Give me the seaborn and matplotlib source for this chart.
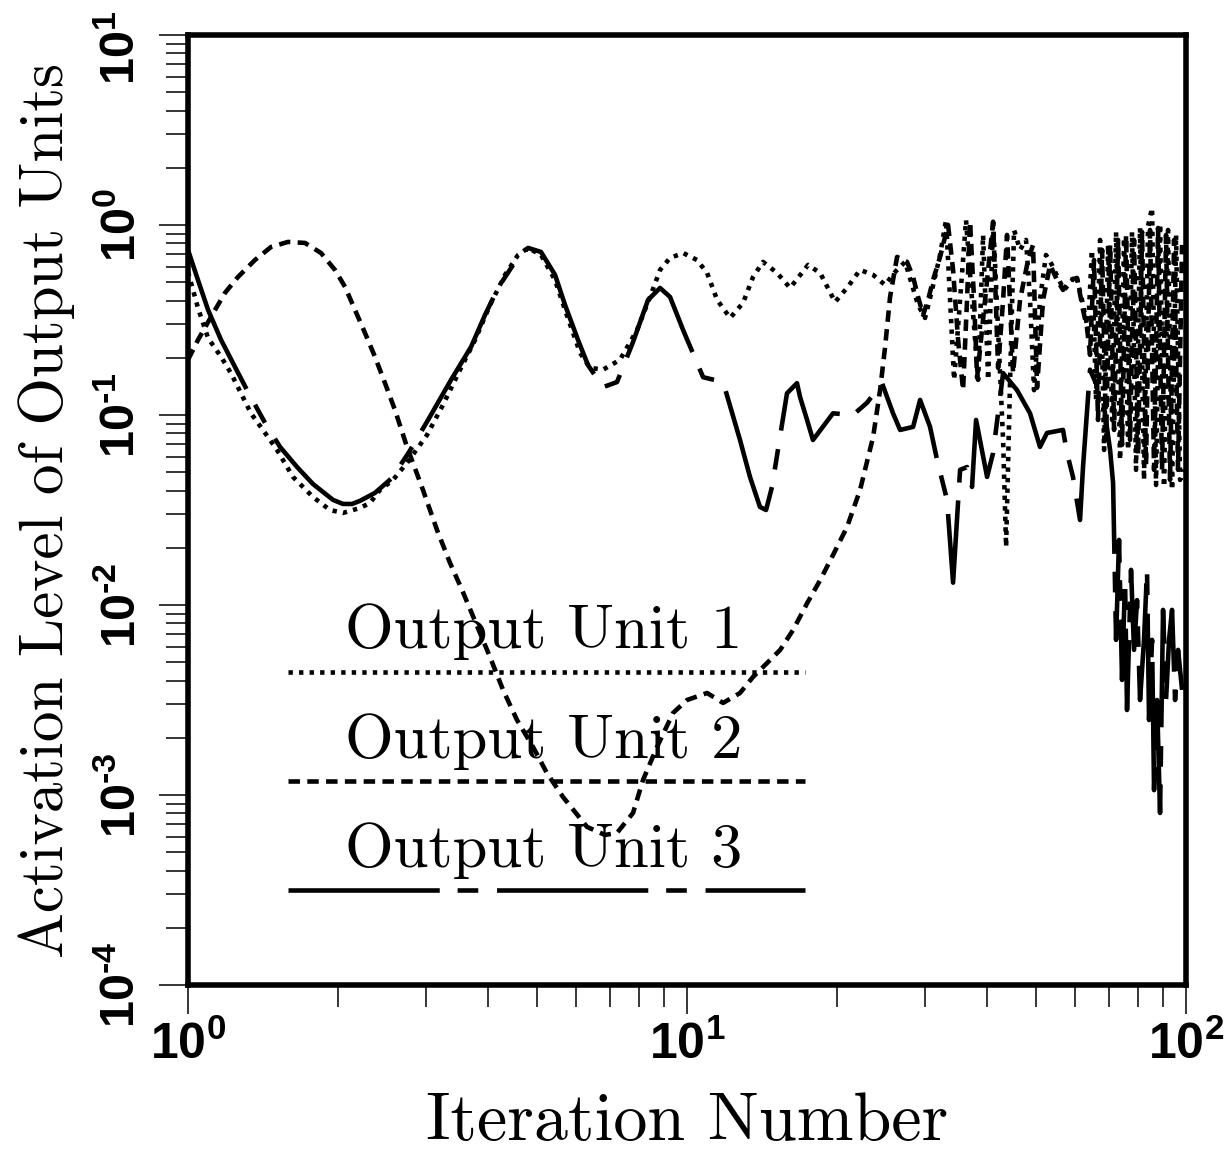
import matplotlib
matplotlib.use("Agg")
import matplotlib.pyplot as plt
import matplotlib.transforms as mtransforms
import numpy as np
import pandas as pd
import seaborn as sns
from matplotlib.ticker import LogLocator, NullFormatter, FixedLocator, FuncFormatter

# Output Unit 1 (dotted)
unit1_iter = [1.00, 1.047, 1.097, 1.165, 1.219, 1.277, 1.337, 1.427, 1.508, 1.623,
              1.780, 1.925, 2.045, 2.211, 2.316, 2.425, 2.575, 2.747, 3.013, 3.243,
              3.509, 3.760, 4.029, 4.318, 4.585, 4.801, 5.097, 5.439, 5.696, 6.105,
              6.393, 6.785, 7.338, 7.940, 8.433, 8.830, 9.245, 9.82, 10.47, 10.97,
              11.49, 12.20, 12.95, 13.56, 14.20, 15.15, 16.09, 17.48, 18.48, 19.80,
              20.92, 22.22, 23.60, 24.94, 26.12, 27.35, 28.24, 29.04, 29.99, 30.97,
              32.14, 33.04, 33.66, 34.29, 35.25, 36.23, 37.25, 38.31, 39.20, 40.12,
              41.05, 42.01, 42.99, 43.59, 44.40, 45.22, 46.48, 47.79, 48.68, 49.59,
              50.97, 52.40, 53.86, 55.40, 56.95, 58.55, 60.19, 61.87, 63.61, 64.78,
              66.00, 67.25, 68.51, 69.80, 71.10, 72.40, 73.74, 75.12, 76.53, 77.94,
              79.39, 80.87, 82.37, 83.91, 85.48, 87.07, 88.69, 90.34, 92.02, 93.74,
              95.50, 97.27, 99.08]
unit1_act = [0.566, 0.366, 0.254, 0.202, 0.166, 0.130, 0.102, 0.0804, 0.0654, 0.0472,
             0.0370, 0.0316, 0.0305, 0.0324, 0.0344, 0.0403, 0.0455, 0.0559, 0.0785, 0.113,
             0.173, 0.248, 0.379, 0.546, 0.695, 0.757, 0.695, 0.513, 0.357, 0.212,
             0.177, 0.173, 0.195, 0.280, 0.418, 0.580, 0.670, 0.712, 0.654, 0.559,
             0.403, 0.324, 0.389, 0.532, 0.639, 0.559, 0.466, 0.616, 0.559, 0.393,
             0.466, 0.580, 0.546, 0.483, 0.566, 0.639, 0.483, 0.379, 0.324, 0.455,
             0.695, 1.06, 0.403, 0.153, 0.403, 1.06, 0.403, 0.153, 0.886, 0.153,
             1.06, 0.280, 0.0738, 0.0202, 0.153, 0.941, 0.739, 0.834, 0.403, 0.135,
             0.403, 0.695, 0.616, 0.526, 0.455, 0.495, 0.546, 0.403, 0.280, 0.739,
             0.120, 0.834, 0.0654, 0.785, 0.0941, 0.919, 0.0580, 0.854, 0.0654, 0.919,
             0.0514, 0.964, 0.0455, 0.988, 1.23, 0.0428, 1.01, 0.0418, 0.941, 0.0403,
             0.886, 0.0455, 0.0514]

# Output Unit 2 (dashed)
unit2_iter = [1.00, 1.047, 1.112, 1.186, 1.259, 1.362, 1.467, 1.586, 1.716, 1.847,
              1.970, 2.064, 2.161, 2.263, 2.370, 2.482, 2.599, 2.747, 2.957, 3.155,
              3.351, 3.541, 4.029, 4.279, 4.563, 4.913, 5.242, 5.642, 6.303, 6.848,
              7.239, 7.794, 8.163, 8.709, 9.374, 10.00, 10.97, 11.81, 12.77, 13.56,
              14.47, 15.37, 16.31, 17.40, 18.48, 19.61, 20.92, 22.22, 23.60, 24.37,
              24.94, 25.52, 26.36, 27.60, 28.38, 29.04, 29.72, 30.41, 31.12, 32.14,
              33.35, 34.13, 34.93, 35.74, 36.40, 36.91, 37.60, 38.13, 39.56, 41.05,
              42.01, 42.99, 43.78, 45.01, 46.48, 48.24, 49.36, 50.28, 51.69, 53.40,
              55.15, 56.68, 58.55, 60.47, 62.16, 63.32, 64.20, 65.40, 66.62, 67.88,
              69.14, 70.43, 71.74, 73.07, 74.42, 75.82, 77.23, 78.66, 80.13, 81.62,
              83.13, 84.69, 86.27, 87.88, 89.51, 91.18, 92.88, 94.63, 96.38, 98.18]
unit2_act = [0.195, 0.248, 0.328, 0.439, 0.532, 0.654, 0.766, 0.814, 0.804, 0.712,
             0.580, 0.472, 0.357, 0.270, 0.202, 0.147, 0.106, 0.0679, 0.0403, 0.0248,
             0.0166, 0.0120, 0.00532, 0.00357, 0.00248, 0.00179, 0.00130, 0.000976, 0.000679, 0.000616,
             0.000631, 0.000804, 0.00120, 0.00179, 0.00270, 0.00316, 0.00344, 0.00305, 0.00344, 0.00418,
             0.00495, 0.00580, 0.00738, 0.0102, 0.0135, 0.0183, 0.0257, 0.0403, 0.0766, 0.135,
             0.228, 0.418, 0.679, 0.639, 0.532, 0.418, 0.336, 0.403, 0.513, 0.679,
             1.00, 0.580, 0.248, 0.135, 0.403, 1.04, 0.403, 0.157, 0.403, 1.04,
             0.177, 0.403, 0.886, 0.166, 0.403, 0.654, 0.785, 0.139, 0.403, 0.616,
             0.513, 0.455, 0.513, 0.526, 0.357, 0.287, 0.207, 0.654, 0.0941, 0.739,
             0.0738, 0.785, 0.0834, 0.834, 0.0696, 0.886, 0.0738, 0.834, 0.0616, 0.919,
             0.0546, 0.941, 0.0514, 0.964, 0.0514, 0.886, 0.0455, 0.834, 0.0514, 0.785]

# Output Unit 3 (long dash)
unit3_iter = [1.00, 1.047, 1.097, 1.165, 1.242, 1.319, 1.427, 1.529, 1.654, 1.780,
              1.953, 2.045, 2.132, 2.211, 2.370, 2.563, 2.773, 3.027, 3.366, 3.691,
              3.937, 4.181, 4.521, 4.801, 5.097, 5.439, 5.696, 6.047, 6.332, 6.785,
              7.239, 7.794, 8.353, 8.830, 9.245, 9.82, 10.77, 11.81, 12.77, 13.37,
              14.00, 14.40, 14.80, 15.86, 16.61, 16.85, 17.40, 17.88, 19.61, 21.51,
              22.95, 24.59, 25.87, 26.73, 28.38, 29.31, 30.69, 31.70, 33.19, 34.13,
              35.25, 36.40, 37.25, 37.95, 39.93, 41.05, 42.99, 45.85, 48.68, 50.97,
              52.64, 56.68, 57.73, 59.35, 61.31, 62.16, 64.20, 68.19, 70.43, 71.41,
              72.40, 73.40, 74.42, 75.46, 76.16, 77.58, 78.66, 79.76, 80.87, 82.37,
              83.52, 84.30, 85.48, 86.27, 87.47, 88.69, 89.93, 91.18, 92.45, 93.74,
              95.06, 96.38, 98.18]
unit3_act = [0.739, 0.513, 0.357, 0.248, 0.179, 0.132, 0.0908, 0.0679, 0.0532, 0.0433,
             0.0357, 0.0340, 0.0340, 0.0353, 0.0389, 0.0466, 0.0638, 0.0941, 0.153, 0.228,
             0.336, 0.466, 0.639, 0.757, 0.721, 0.546, 0.379, 0.248, 0.183, 0.140,
             0.149, 0.242, 0.403, 0.466, 0.418, 0.280, 0.158, 0.149, 0.0738, 0.0472,
             0.0328, 0.0316, 0.0418, 0.130, 0.147, 0.124, 0.0941, 0.0738, 0.102, 0.100,
             0.116, 0.147, 0.102, 0.0834, 0.0865, 0.120, 0.0865, 0.0580, 0.0357, 0.0131,
             0.0514, 0.0532, 0.0418, 0.0941, 0.0472, 0.0631, 0.166, 0.135, 0.102, 0.0679,
             0.0804, 0.0834, 0.0631, 0.0472, 0.0280, 0.0532, 0.173, 0.120, 0.0654, 0.0439,
             0.00655, 0.0220, 0.00403, 0.0135, 0.00280, 0.0153, 0.00580, 0.0106, 0.00316, 0.00655,
             0.0153, 0.00248, 0.00655, 0.00106, 0.00316, 0.000804, 0.00942, 0.00316, 0.00655, 0.00942,
             0.00316, 0.00580, 0.00357]

unit_names = ["Output Unit 1", "Output Unit 2", "Output Unit 3"]

frames = []
for name, xs, ys in zip(unit_names,
                        [unit1_iter, unit2_iter, unit3_iter],
                        [unit1_act, unit2_act, unit3_act]):
    frames.append(pd.DataFrame({"iteration": xs, "activation": ys, "unit": name}))
df = pd.concat(frames, ignore_index=True)

sns.set_theme(style="white")
plt.rcParams.update({
    "mathtext.fontset": "custom",
    "mathtext.rm": "Liberation Sans:bold",
    "mathtext.bf": "Liberation Sans:bold",
    "mathtext.it": "Liberation Sans:bold",
    "mathtext.sf": "Liberation Sans:bold",
    "axes.edgecolor": "black",
    "axes.labelcolor": "black",
    "text.color": "black",
    "xtick.color": "black",
    "ytick.color": "black",
})

LW = 3.3
dash_styles = {
    "Output Unit 1": (0.95, 1.35),
    "Output Unit 2": (2.5, 1.6),
    "Output Unit 3": (33, 3.9, 4.5, 4.1),
}

fig = plt.figure(figsize=(12.24, 11.57), dpi=100)
ax = fig.add_axes([0.1536, 0.1487, 0.8154, 0.8211])
ax.set_xscale("log")
ax.set_yscale("log")

sns.lineplot(data=df, x="iteration", y="activation", hue="unit", style="unit",
             hue_order=unit_names, style_order=unit_names,
             palette={n: "black" for n in unit_names}, dashes=dash_styles,
             estimator=None, sort=False, linewidth=LW, legend=False, ax=ax)

ax.set_xlim(1, 100)
ax.set_ylim(1e-4, 10)


# Decade ticks with bold labels, minor ticks at 2..9
def decade_label(v, pos):
    e = int(round(np.log10(v)))
    if e < 0:
        return r"$\mathbf{10^{\text{-}%d}}$" % (-e)
    return r"$\mathbf{10^{%d}}$" % e


ax.xaxis.set_major_locator(FixedLocator([1, 10, 100]))
ax.yaxis.set_major_locator(FixedLocator([1e-4, 1e-3, 1e-2, 1e-1, 1, 10]))
ax.xaxis.set_minor_locator(LogLocator(base=10, subs=np.arange(2, 10)))
ax.yaxis.set_minor_locator(LogLocator(base=10, subs=np.arange(2, 10)))
ax.xaxis.set_major_formatter(FuncFormatter(decade_label))
ax.yaxis.set_major_formatter(FuncFormatter(decade_label))
ax.xaxis.set_minor_formatter(NullFormatter())
ax.yaxis.set_minor_formatter(NullFormatter())

ax.tick_params(which="both", direction="out", bottom=True, left=True,
               top=False, right=False, width=1.1, color="black")
ax.tick_params(which="major", length=21)
ax.tick_params(which="minor", length=16)
ax.tick_params(axis="x", which="major", labelsize=36, pad=5)
ax.tick_params(axis="y", which="major", labelsize=35, pad=10, labelrotation=90)
yticks = ax.yaxis.get_major_ticks()
for tick in yticks:
    tick.label1.set_verticalalignment("center")
# keep the topmost label inside the canvas
top_label = yticks[-1].label1
top_label.set_transform(top_label.get_transform() +
                        mtransforms.ScaledTranslation(0, -9 / 72, fig.dpi_scale_trans))

for spine in ax.spines.values():
    spine.set_linewidth(4)
    spine.set_color("black")

ax.set_xlabel("Iteration Number", fontfamily="cmr10", fontsize=49, labelpad=16)
ax.set_ylabel("Activation Level of Output Units", fontfamily="cmr10", fontsize=44, labelpad=16)

# Legend: caption above each line sample
key_y = [0.3295, 0.2147, 0.100]
text_y = [0.3547, 0.2389, 0.1242]
for name, ky, ty in zip(unit_names, key_y, text_y):
    ax.plot([0.1002, 0.618], [ky, ky], transform=ax.transAxes, color="black",
            linewidth=LW, dashes=dash_styles[name])
    ax.text(0.1573, ty, name, transform=ax.transAxes, fontfamily="cmr10",
            fontsize=45, ha="left", va="baseline", color="black")

ax.set_xlim(1, 100)
ax.set_ylim(1e-4, 10)

fig.savefig("out.png", dpi=100, facecolor="white")
